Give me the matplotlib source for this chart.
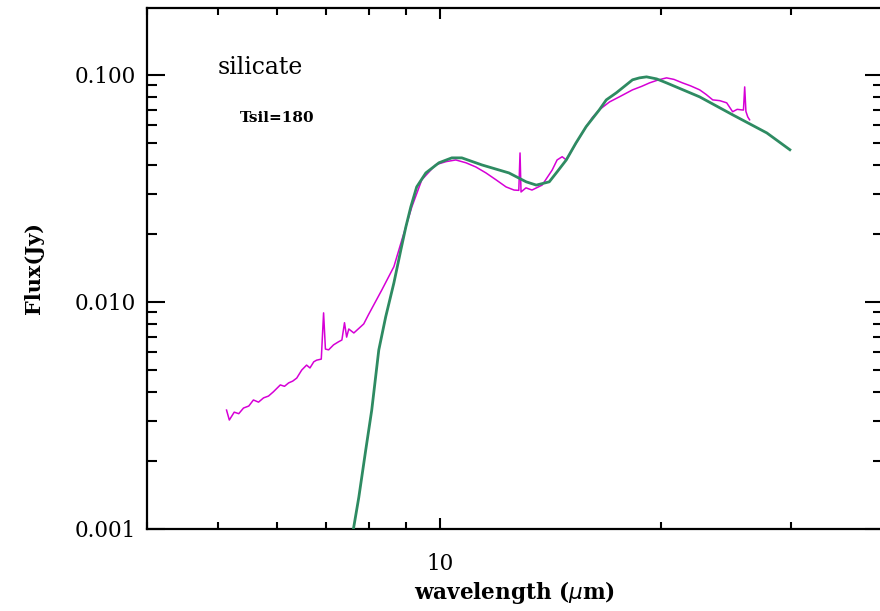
import matplotlib
matplotlib.use("Agg")
import matplotlib.pyplot as plt
from matplotlib.ticker import FixedLocator, LogLocator, NullFormatter, FixedFormatter

# Observed spectrum (wavelength in micron, flux in Jy)
obs_wave = [5.13, 5.175, 5.255, 5.33, 5.41, 5.50, 5.58, 5.67, 5.76, 5.85, 5.94, 6.07,
            6.15, 6.23, 6.31, 6.39, 6.49, 6.59, 6.66, 6.74, 6.80, 6.90, 6.95, 6.99,
            7.06, 7.17, 7.28, 7.36, 7.42, 7.47, 7.52, 7.64, 7.88, 8.00, 8.34, 8.66,
            8.88, 9.16, 9.45, 9.87, 10.20, 10.51, 10.85, 11.19, 11.55, 11.92, 12.30,
            12.61, 12.80, 12.85, 12.89, 13.09, 13.34, 13.77, 14.21, 14.43, 14.66, 14.85,
            15.13, 15.45, 15.80, 16.12, 16.46, 17.0, 17.53, 18.27, 18.8, 19.27, 19.8,
            20.32, 20.8, 21.36, 21.9, 22.54, 23.0, 23.48, 24.0, 24.53, 24.99, 25.35,
            25.71, 25.85, 25.95, 26.05, 26.20, 26.35]
obs_flux = [0.00334, 0.00302, 0.00327, 0.00322, 0.00341, 0.00348, 0.00370, 0.00362,
            0.00378, 0.00385, 0.00402, 0.00431, 0.00425, 0.00440, 0.00448, 0.00462,
            0.00501, 0.00527, 0.00512, 0.00545, 0.00554, 0.00560, 0.00895, 0.00620,
            0.00615, 0.00647, 0.00667, 0.00680, 0.00810, 0.00700, 0.00760, 0.00730,
            0.00800, 0.00880, 0.01130, 0.01430, 0.01880, 0.0262, 0.0345, 0.0402,
            0.0415, 0.0422, 0.0410, 0.0393, 0.0370, 0.0345, 0.0321, 0.0311, 0.0310,
            0.0453, 0.0305, 0.0318, 0.0311, 0.0327, 0.0381, 0.0422, 0.0436, 0.0422,
            0.0468, 0.0525, 0.0591, 0.0650, 0.0701, 0.0760, 0.0800, 0.0859, 0.0890,
            0.0922, 0.0950, 0.0970, 0.0955, 0.0922, 0.0895, 0.0859, 0.0820, 0.0776,
            0.0770, 0.0753, 0.0688, 0.0705, 0.0701, 0.0700, 0.0885, 0.0690, 0.0653,
            0.0634]

# Silicate dust model, T = 180 K
model_wave = [7.63, 7.76, 7.93, 8.08, 8.26, 8.44, 8.66, 8.85, 8.99, 9.13, 9.30, 9.57,
              9.97, 10.38, 10.71, 11.41, 12.41, 13.10, 13.52, 14.08, 14.43, 14.85,
              15.30, 15.80, 16.46, 16.83, 17.37, 18.27, 18.67, 19.09, 19.70, 20.32,
              22.54, 24.99, 27.81, 29.89]
model_flux = [0.00100, 0.00138, 0.00223, 0.00334, 0.00614, 0.00859, 0.01213, 0.01694,
              0.0214, 0.0262, 0.0321, 0.0370, 0.0410, 0.0431, 0.0431, 0.0401, 0.0370,
              0.0338, 0.0327, 0.0338, 0.0374, 0.0422, 0.0500, 0.0591, 0.0700, 0.0776,
              0.0834, 0.0951, 0.0970, 0.0980, 0.0960, 0.0922, 0.0800, 0.0667, 0.0555,
              0.0468]

y_ticks = [0.001, 0.01, 0.1]
y_tick_labels = ["0.001", "0.010", "0.100"]
x_ticks = [10]
x_tick_labels = ["10"]

W, H = 880, 611
fig = plt.figure(figsize=(W / 100, H / 100), dpi=100)
ax = fig.add_axes([147 / W, (H - 529) / H, (883 - 147) / W, (529 - 8) / H])

ax.plot(obs_wave, obs_flux, color="#d600d6", lw=1.1, zorder=2)
ax.plot(model_wave, model_flux, color="#2e8b62", lw=2.0, zorder=3,
        solid_joinstyle="round")

ax.set_xscale("log")
ax.set_yscale("log")
ax.set_xlim(4, 40)
ax.set_ylim(0.001, 0.197)

ax.xaxis.set_major_locator(FixedLocator(x_ticks))
ax.xaxis.set_major_formatter(FixedFormatter(x_tick_labels))
ax.xaxis.set_minor_locator(LogLocator(base=10, subs=range(2, 10)))
ax.xaxis.set_minor_formatter(NullFormatter())
ax.yaxis.set_major_locator(FixedLocator(y_ticks))
ax.yaxis.set_major_formatter(FixedFormatter(y_tick_labels))
ax.yaxis.set_minor_locator(LogLocator(base=10, subs=range(2, 10)))
ax.yaxis.set_minor_formatter(NullFormatter())

for s in ax.spines.values():
    s.set_linewidth(1.6)

ax.tick_params(axis="both", which="both", direction="in", top=True, right=True,
               width=1.5, colors="black")
ax.tick_params(axis="y", which="major", length=13, labelsize=15.5, pad=8)
ax.tick_params(axis="y", which="minor", length=7)
ax.tick_params(axis="x", which="major", length=8, labelsize=15.5, pad=17)
ax.tick_params(axis="x", which="minor", length=5)

serif = "DejaVu Serif"
for lab in ax.get_xticklabels() + ax.get_yticklabels():
    lab.set_family(serif)

ax.set_xlabel(r"wavelength ($\mu$m)", family=serif, fontsize=15.5, fontweight="bold",
              labelpad=3)
ax.set_ylabel("Flux(Jy)", family=serif, fontsize=15, fontweight="bold", labelpad=22)

fig.text(218 / W, 1 - 67 / H, "silicate", family=serif, fontsize=17,
         va="center", ha="left")
fig.text(240 / W, 1 - 118 / H, "Tsil=180", family=serif, fontsize=11,
         fontweight="bold", va="center", ha="left")

fig.savefig("out.png", dpi=100)
